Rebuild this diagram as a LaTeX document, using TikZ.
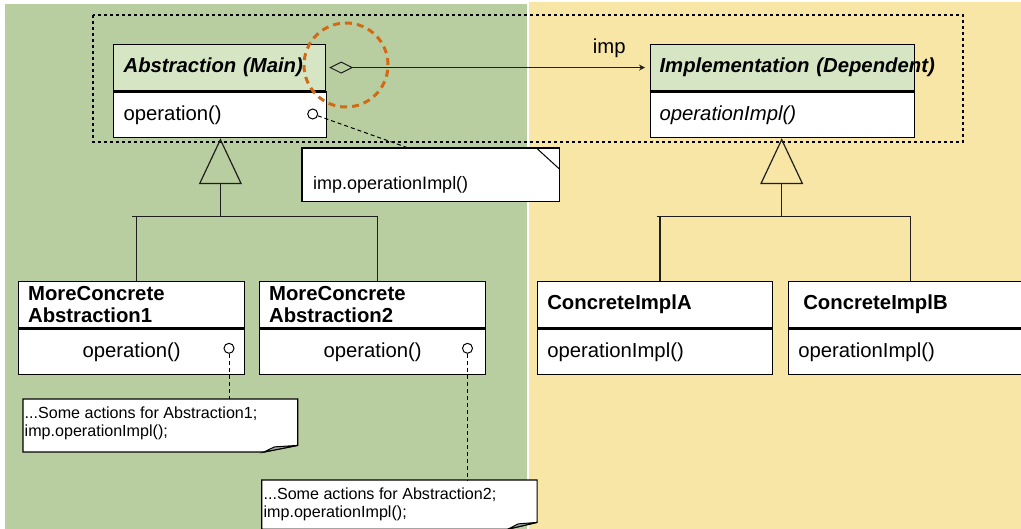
\documentclass[tikz,border=0pt]{standalone}
\usepackage{fontspec}
\setmainfont{Liberation Sans}
\usetikzlibrary{arrows.meta}
\definecolor{bggreen}{RGB}{185,206,160}
\definecolor{bgyellow}{RGB}{247,230,165}
\definecolor{hdrgreen}{RGB}{214,230,197}
\definecolor{hiorange}{RGB}{210,105,20}
\definecolor{linecol}{RGB}{30,30,30}
\newcommand\FontMain{\fontsize{20.3}{22.7}\selectfont}
\newcommand\FontNote{\fontsize{18}{21}\selectfont}
\newcommand\FontSmall{\fontsize{16.1}{18}\selectfont}
\begin{document}
\begin{tikzpicture}[x=1pt,y=-1pt,
  box/.style={draw=black, line width=1.2pt, fill=white, anchor=north west, inner ysep=0pt, align=left, font=\FontMain},
  hdr/.style={box, fill=hdrgreen},
  conn/.style={draw=linecol, line width=1.2pt},
  anchorc/.style={circle, draw=black, fill=white, line width=1pt, minimum size=10pt, inner sep=0pt},
  notelink/.style={draw=black, line width=1pt, dash pattern=on 4pt off 3pt},
  inh/.style={conn, -{Triangle[open, length=46pt, width=43pt]}},
  notebox/.style={draw=black, line width=1.2pt, fill=white},
  curl/.style={draw=black, line width=1pt, fill=gray!70},
  notetext/.style={inner sep=0pt, align=left, font=\FontSmall}
]
\useasboundingbox (0,0) rectangle (1021,529);
% backgrounds
\fill[white] (0,0) rectangle (1021,529);
\fill[bggreen] (5,4) rectangle (527,529);
\fill[bgyellow] (529,2) rectangle (1021,529);
% dotted frame
\draw[line width=1.5pt, dash pattern=on 3pt off 3pt] (93,15) rectangle (963,142);

% classes
\node[hdr, text width=192pt, inner xsep=10pt, minimum height=46pt, font=\FontMain\bfseries\itshape] (absH) at (113,44) {Abstraction (Main)};
\node[box, text width=193pt, inner xsep=10pt, minimum height=45.5pt] (absB) at (113,91.5) {operation()};

\node[hdr, text width=246pt, inner xsep=9pt, minimum height=46pt, font=\FontMain\bfseries\itshape] (implH) at (650,44) {\rlap{Implementation (Dependent)}};
\node[box, text width=246pt, inner xsep=9pt, minimum height=45.5pt, font=\FontMain\itshape] (implB) at (650,91.5) {operationImpl()};

\node[box, text width=207pt, inner xsep=9.5pt, minimum height=46pt, font=\FontMain\bfseries] (mca1H) at (18,281) {MoreConcrete\\Abstraction1};
\node[box, text width=207pt, inner xsep=9.5pt, minimum height=45.5pt, align=center] (mca1B) at (18,328.5) {operation()};

\node[box, text width=207pt, inner xsep=9.5pt, minimum height=46pt, font=\FontMain\bfseries] (mca2H) at (259,281) {MoreConcrete\\Abstraction2};
\node[box, text width=207pt, inner xsep=9.5pt, minimum height=45.5pt, align=center] (mca2B) at (259,328.5) {operation()};

\node[box, text width=215.6pt, inner xsep=9.7pt, minimum height=46pt, font=\FontMain\bfseries] (ciaH) at (537,281) {ConcreteImplA};
\node[box, text width=215.6pt, inner xsep=9.7pt, minimum height=45.5pt] (ciaB) at (537,328.5) {operationImpl()};

\node[box, text width=210.6pt, inner xsep=14.7pt, minimum height=46pt, font=\FontMain\bfseries] (cibH) at (788,281) {ConcreteImplB};
\node[box, text width=220.6pt, inner xsep=9.7pt, minimum height=45.5pt] (cibB) at (788,328.5) {operationImpl()};

% association
\draw[conn, {Diamond[open, length=24pt, width=12pt, line width=1pt]}-{Stealth[length=6pt, width=6pt]}, shorten <=3pt, shorten >=5pt] (absH) -- (implH);
\node[anchor=base west, inner sep=0pt, font=\FontMain] (implbl) at (592.7,53.5) {imp};

% inheritance left
\coordinate (jA) at (220.4,216.7);
\coordinate (bA1) at (136.4,216.7);
\coordinate (bA2) at (377.8,216.7);
\draw[conn] ([xshift=-4pt]bA1) -- (bA2);
\draw[conn] (bA1) -- (bA1 |- mca1H.north);
\draw[conn] (bA2) -- (bA2 |- mca2H.north);
\draw[inh] (jA) -- (jA |- absB.south);

% inheritance right
\coordinate (jB) at (781.7,216.7);
\coordinate (bB1) at (660,216.7);
\coordinate (bB2) at (910.7,216.7);
\draw[conn] ([xshift=-3.5pt]bB1) -- (bB2);
\draw[conn] (bB1) -- (bB1 |- ciaH.north);
\draw[conn] (bB2) -- (bB2 |- cibH.north);
\draw[inh] (jB) -- (jB |- implB.south);

% note 0
\node[minimum width=257pt, minimum height=53pt, inner sep=0pt, anchor=north west] (note0) at (302,148) {};
\draw[notebox] (note0.north west) rectangle (note0.south east);
\draw[line width=1pt] ([xshift=-23pt]note0.north east) -- ([yshift=-21pt]note0.north east);
\node[anchor=base west, inner sep=0pt, font=\FontNote] (note0t) at (313,189.6) {imp.operationImpl()};

% note A1
\node[minimum width=274.3pt, minimum height=52.7pt, inner sep=0pt, anchor=north west] (nA1) at (23,399) {};
\draw[notebox] (nA1.north west) -- (nA1.north east) -- ([yshift=6.7pt]nA1.south east) -- ([xshift=-34pt]nA1.south east) -- (nA1.south west) -- cycle;
\draw[curl] ([xshift=-34pt]nA1.south east) -- ([xshift=-23.3pt,yshift=5.2pt]nA1.south east) -- ([yshift=6.7pt]nA1.south east) -- cycle;
\node[notetext, anchor=north west] (nA1t) at (24.5,406.5) {...Some actions for Abstraction1;\\imp.operationImpl();};

% note A2
\node[minimum width=275pt, minimum height=48.7pt, inner sep=0pt, anchor=north west] (nA2) at (261.7,480) {};
\draw[notebox] (nA2.north west) -- (nA2.north east) -- ([yshift=6.7pt]nA2.south east) -- ([xshift=-29pt]nA2.south east) -- (nA2.south west) -- cycle;
\draw[curl] ([xshift=-29pt]nA2.south east) -- ([xshift=-19pt,yshift=5.2pt]nA2.south east) -- ([yshift=6.7pt]nA2.south east) -- cycle;
\node[notetext, anchor=north west] (nA2t) at (263.4,488) {...Some actions for Abstraction2;\\imp.operationImpl();};

% anchor circles and links
\node[anchorc] (c0) at (312.7,114) {};
\node[anchorc] (c1) at (229,348.3) {};
\node[anchorc] (c2) at (467.5,348.3) {};
\coordinate (n0top) at (407,147.5);
\draw[notelink] (c0) -- (n0top);
\draw[notelink] (c1) -- (c1 |- nA1.north);
\draw[notelink] (c2) -- (c2 |- nA2.north);

% highlight
\draw[hiorange, line width=3pt, dash pattern=on 7pt off 5pt] (346,65) circle[radius=42pt];
\end{tikzpicture}
\end{document}
